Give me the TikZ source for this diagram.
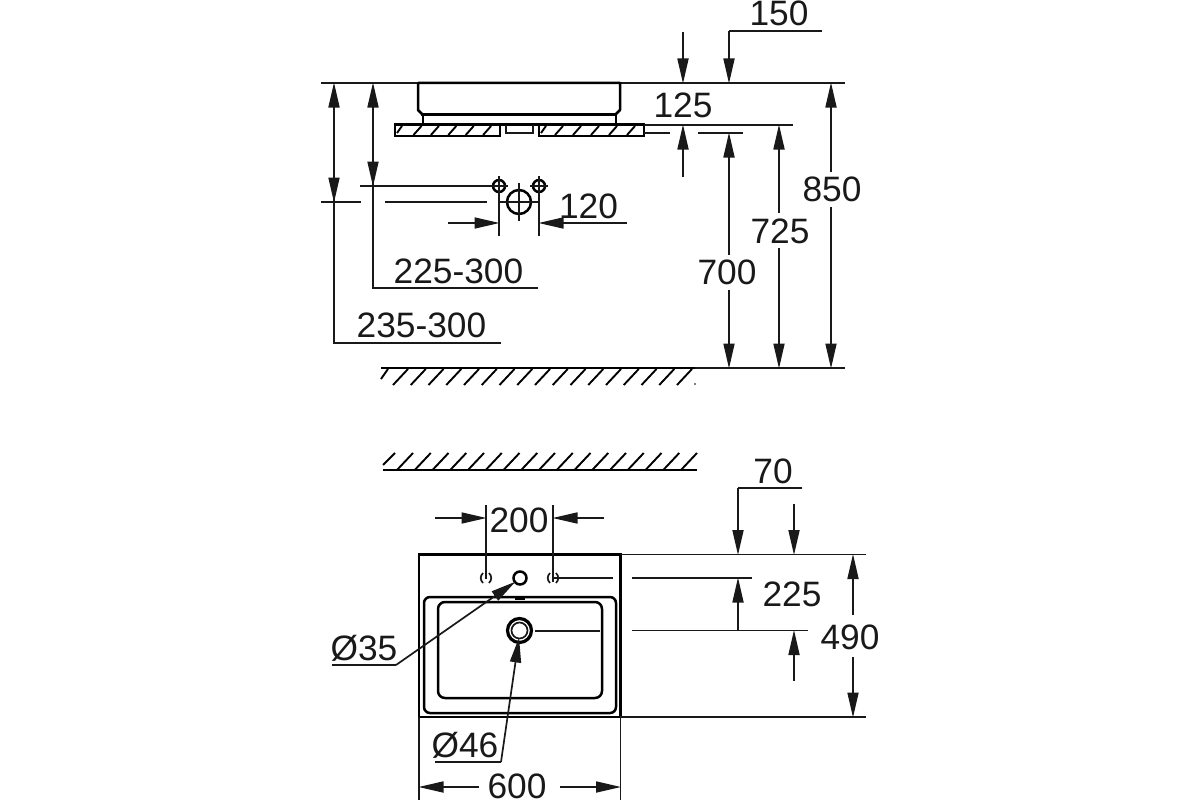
\documentclass[tikz,border=0pt]{standalone}
\usepackage{fontspec}
\setmainfont{Liberation Sans}
\usetikzlibrary{arrows.meta}
\tikzset{
  thinl/.style={line width=1.7pt,draw=black!90},
  thickl/.style={line width=2.5pt,draw=black},
  heavyl/.style={line width=3.2pt,draw=black},
  groundl/.style={line width=2.6pt,draw=black},
  hatchl/.style={line width=1.9pt,draw=black},
  dimtip/.style={-{Triangle[length=25pt,width=11pt]},line width=1.7pt,draw=black!90,shorten >=-0.5pt},
  dimlabel/.style={inner sep=0pt,text=black!90,font=\fontsize{35.3}{37}\selectfont}
}
\begin{document}
\begin{tikzpicture}[x=1pt,y=-1pt]
\useasboundingbox (0,0) rectangle (1200,800);
\fill[white] (0,0) rectangle (1200,800);
% --- elevation: basin
\draw[thinl] (321,83) -- (418,83);
\draw[thinl] (620,83) -- (845,83);
\draw[thickl,line join=round] (418,83) -- (620,83) -- (620,110) -- (616,114) (418,83) -- (418,110) -- (422,114);
\draw[heavyl] (421,114.5) -- (617,114.5);
\draw[thickl] (423,114) -- (423,124) (616,114) -- (616,124);
\draw[thickl] (395,124.5) -- (644,124.5);
% slab
\draw[thickl] (395,124.5) rectangle (500,136);
\draw[thickl] (539,124.5) rectangle (644,136);
\draw[thinl] (506,124.5) -- (506,133) -- (533,133) -- (533,124.5);
\draw[hatchl] (397,133) -- (402,126);
\foreach \k in {0,...,4} \draw[hatchl] ({413.5+17.4*\k},135) -- ({421.5+17.4*\k},126);
\draw[hatchl] (541,133) -- (546,126);
\foreach \k in {0,...,4} \draw[hatchl] ({555+18*\k},135) -- ({563+18*\k},126);
\draw[thinl] (644,125) -- (793,125);
\draw[thinl] (644,133) -- (670,133) (698,133) -- (743,133);
% tap holes
\draw[thickl] (499,186) circle (6) (539,186) circle (6);
\draw[thickl] (519,202) circle (12);
\draw[thinl] (499,176) -- (499,236) (539,176) -- (539,236);
\draw[thinl] (519,183) -- (519,221) (499,202) -- (539,202);
\draw[thinl] (490,186) -- (508,186) (530,186) -- (548,186);
\draw[thinl] (360,186) -- (493,186);
\draw[thinl] (321,202) -- (361,202) (385,202) -- (487,202);
% left dimensions
\draw[dimtip] (334,130) -- (334,83);
\draw[dimtip] (334,160) -- (334,202);
\draw[thinl] (334,130) -- (334,343) -- (501,343);
\draw[dimtip] (373,130) -- (373,83);
\draw[dimtip] (373,150) -- (373,186);
\draw[thinl] (373,130) -- (373,288) -- (538,288);
\node[dimlabel] (l225300) at (458.5,271.5) {225-300};
\node[dimlabel] (l235300) at (421.5,325.5) {235-300};
% 120
\draw[dimtip] (448,223) -- (499,223);
\draw[dimtip] (627,223) -- (539,223);
\node[dimlabel] (l120) at (588.5,206.5) {120};
% right dimensions
\draw[dimtip] (683,32) -- (683,83);
\draw[thinl] (822,31) -- (729,31);
\draw[dimtip] (729,31) -- (729,83);
\node[dimlabel] (l150) at (779,13.5) {150};
\node[dimlabel] (l125) at (683,105.5) {125};
\draw[dimtip] (683,177) -- (683,125);
\draw[dimtip] (729,255) -- (729,133);
\draw[dimtip] (729,290) -- (729,368);
\node[dimlabel] (l700) at (727,272.5) {700};
\draw[dimtip] (779,213) -- (779,125);
\draw[dimtip] (779,248) -- (779,368);
\node[dimlabel] (l725) at (780,231.5) {725};
\draw[dimtip] (831,172) -- (831,83);
\draw[dimtip] (831,207) -- (831,368);
\node[dimlabel] (l850) at (832,189.5) {850};
% floor
\draw[groundl] (381,368) -- (695,368);
\draw[thinl] (695,368) -- (845,368);
\draw[hatchl] (388,369) -- (381,379);
\foreach \k in {0,...,16} \draw[hatchl] ({408+17.75*\k},369) -- ({393+17.75*\k},385);
\fill (695,384) circle (0.8);
% wall
\draw[groundl] (383,470) -- (697,470);
\draw[hatchl] (383,465) -- (395,453);
\foreach \k in {0,...,16} \draw[hatchl] ({397+17.75*\k},470) -- ({413+17.75*\k},453);
% --- plan
\draw[thickl] (419,554.5) rectangle (620.5,717);
\draw[thinl] (620,554.5) -- (866,554.5) (620,717) -- (866,717);
\draw[thickl,rounded corners=6pt] (424,597) rectangle (616,713);
\draw[thickl,rounded corners=7pt] (438,602) rectangle (602,698);
\fill (515,596.5) rectangle (525,600);
\draw[thickl] (520,578) circle (6.5);
\draw[heavyl] (519.5,630.5) circle (12);
\draw[thinl] (519.5,630.5) circle (8);
\draw[thinl] (535,630.7) -- (600,630.7);
\draw[thinl] (483,573) .. controls (480,576) and (480,580) .. (483,583);
\draw[thinl] (489,573) .. controls (492,576) and (492,580) .. (489,583);
\draw[thinl] (550,573) .. controls (547,576) and (547,580) .. (550,583);
\draw[thinl] (556,573) .. controls (559,576) and (559,580) .. (556,583);
\draw[thinl] (486,505) -- (486,579) (553,505) -- (553,582);
\draw[thinl] (553,578) -- (613,578);
\draw[dimtip] (435,518) -- (486,518);
\draw[dimtip] (604,518) -- (553,518);
\node[dimlabel] (l200) at (519,520.5) {200};
% 70, 225, 490
\draw[thinl] (802,488) -- (738,488);
\draw[dimtip] (738,488) -- (738,554.5);
\draw[dimtip] (794,504) -- (794,554.5);
\node[dimlabel] (l70) at (773,471.5) {70};
\draw[thinl] (632,578) -- (752,578) (632,630.5) -- (808,630.5);
\draw[dimtip] (738,630.5) -- (738,578);
\draw[dimtip] (794,681) -- (794,630.5);
\node[dimlabel] (l225) at (792,594.5) {225};
\draw[dimtip] (853,615) -- (853,554.5);
\draw[dimtip] (853,657) -- (853,717);
\node[dimlabel] (l490) at (850,637.5) {490};
% 600
\draw[thinl] (419,717) -- (419,800) (620.5,717) -- (620.5,800);
\draw[dimtip] (479,787) -- (419,787);
\draw[dimtip] (560,787) -- (620.5,787);
\node[dimlabel] (l600) at (517,786) {600};
% leaders
\draw[thinl] (332,665) -- (396,665);
\draw[dimtip] (396,665) -- (515,582);
\node[dimlabel] (ld35) at (364,648.5) {Ø35};
\draw[thinl] (435,762) -- (501,762);
\draw[dimtip] (501,762) -- (519,638);
\node[dimlabel] (ld46) at (465,745.5) {Ø46};
\end{tikzpicture}
\end{document}
